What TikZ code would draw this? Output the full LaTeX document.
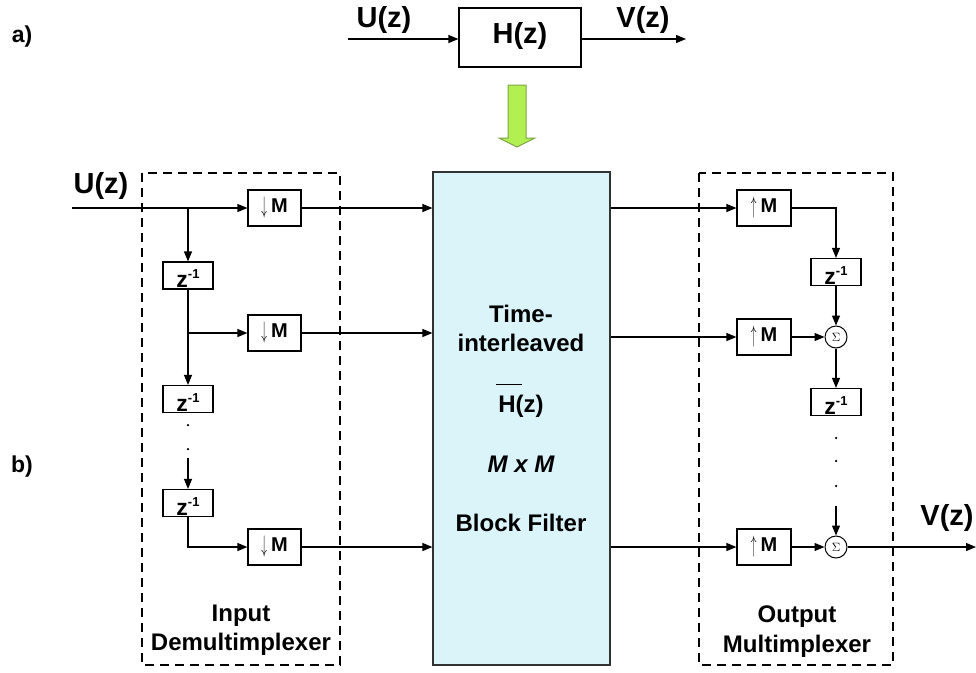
\documentclass[tikz,border=0pt]{standalone}
\usepackage{fontspec}
\usepackage{graphicx}
\setmainfont{Liberation Sans}
\usetikzlibrary{arrows.meta,calc}
\definecolor{blockfill}{RGB}{218,244,250}
\definecolor{blockline}{RGB}{50,50,50}
\definecolor{greenfill}{RGB}{178,240,82}
\definecolor{greenline}{RGB}{125,165,70}
\begin{document}
\begin{tikzpicture}[x=1pt,y=-1pt,line width=1.2pt,
  >={Triangle[length=10pt,width=8pt]},
  sbox/.style={draw,line width=1.2pt,inner sep=0pt,fill=white},
  mbox/.style={sbox,minimum width=53pt,minimum height=36pt},
  zbox/.style={sbox,minimum width=50pt,minimum height=27pt},
  sumc/.style={draw,circle,line width=1pt,minimum size=22pt,inner sep=0pt,font=\fontsize{12}{12}\selectfont},
  biglbl/.style={anchor=base,inner sep=0pt,font=\fontsize{29}{31}\selectfont\bfseries},
  midlbl/.style={anchor=base,inner sep=0pt,font=\fontsize{24}{26}\selectfont\bfseries},
  partlbl/.style={anchor=base,inner sep=0pt,font=\fontsize{23}{25}\selectfont\bfseries},
  dashbox/.style={draw,line width=1.2pt,dash pattern=on 9pt off 6pt},
  dotl/.style={fill=black,circle,inner sep=0pt,minimum size=2.5pt},
  wire/.style={line width=1.2pt}]
\useasboundingbox (0,0) rectangle (976,672);

% ---------- part a ----------
\node[partlbl] (la) at (22,42) {a)};
\node[sbox,minimum width=122pt,minimum height=59pt] (H) at (520,37.5) {};
\node[biglbl] (Ht) at (520,43) {H(z)};
\coordinate (ain) at (348,39);
\coordinate (aout) at (686,39);
\draw[wire,->] (ain) -- (ain -| H.west);
\draw[wire,->] (aout -| H.east) -- (aout);
\node[biglbl] (Ua) at (384,27) {U(z)};
\node[biglbl] (Va) at (643,27) {V(z)};

% green arrow
\draw[line width=1pt,draw=greenline,fill=greenfill]
  (508,85) -- (526,85) -- (526,138) -- (535,138) -- (517,147) -- (499,138) -- (508,138) -- cycle;

% ---------- part b ----------
\node[partlbl] (lb) at (22,472) {b)};

% block filter
\node[draw=blockline,fill=blockfill,line width=1.2pt,minimum width=177pt,minimum height=493pt,inner sep=0pt] (blk) at (521.5,418.5) {};
\node[midlbl] (t1) at (521,322) {Time-};
\node[midlbl] (t2) at (521,351) {interleaved};
\node[midlbl] (t3) at (521,412) {H(z)};
\draw[line width=0.9pt] (496,384) -- (522,384);
\node[midlbl] (t4) at (521,472) {\itshape M x M};
\node[midlbl] (t5) at (521,531) {Block Filter};

% input demultiplexer
\draw[dashbox] (142,173) rectangle (340,665);
\node[midlbl] (in1) at (241,621) {Input};
\node[midlbl] (in2) at (241,650) {Demultimplexer};
\node[biglbl] (Ub) at (101,193) {U(z)};

\newcommand{\dnM}{{\fontsize{20}{20}\selectfont\raisebox{-1pt}{\scalebox{0.55}[1.15]{$\downarrow$}}\hspace{4pt}\bfseries M}}
\newcommand{\upM}{{\fontsize{20}{20}\selectfont\raisebox{-1pt}{\scalebox{0.55}[1.15]{$\uparrow$}}\hspace{4pt}\bfseries M}}
\newcommand{\zinv}{{\fontsize{23}{23}\selectfont\bfseries z\raisebox{9pt}{\fontsize{13}{13}\selectfont -1}}}

\node[mbox] (dM1) at (274.5,208) {\dnM};
\node[mbox] (dM2) at (274.5,333) {\dnM};
\node[mbox] (dM3) at (274.5,547) {\dnM};
\node[zbox] (z1) at (188,275.5) {};
\node[zbox] (z2) at (188,399) {};
\node[zbox] (z3) at (188,503) {};
\foreach \n in {z1,z2,z3}{
  \node[anchor=base,inner sep=0pt] at ($(\n.south)+(0,-2)$) {\zinv};
}
\coordinate (uin) at (72,208);
\coordinate (br1) at (188,208);
\coordinate (br2) at (188,333);
\draw[wire,->] (uin) -- (dM1.west);
\draw[wire,->] (br1) -- (z1.north);
\draw[wire,->] (z1.south) -- (z2.north);
\draw[wire,->] (br2) -- (dM2.west);
\node[dotl] (d1) at (188,425) {};
\node[dotl] (d2) at (188,449) {};
\coordinate (ad) at (188,458);
\draw[wire,->] (ad) -- (z3.north);
\draw[wire,->] (z3.south) |- (dM3.west);
\foreach \n in {dM1,dM2,dM3}{
  \draw[wire,->] (\n.east) -- (\n.east -| blk.west);
}

% output multiplexer
\draw[dashbox] (699,173) rectangle (893,665);
\node[midlbl] (out1) at (797,622) {Output};
\node[midlbl] (out2) at (797,652) {Multimplexer};
\node[biglbl] (Vb) at (947,525) {V(z)};

\node[mbox,minimum width=54pt] (uM1) at (764,208) {\upM};
\node[mbox,minimum width=54pt] (uM2) at (764,337) {\upM};
\node[mbox,minimum width=54pt] (uM3) at (764,547) {\upM};
\node[zbox] (z4) at (836,272) {};
\node[zbox] (z5) at (836,402) {};
\foreach \n in {z4,z5}{
  \node[anchor=base,inner sep=0pt] at ($(\n.south)+(0,-2)$) {\zinv};
}
\node[sumc] (S1) at (836,337) {$\Sigma$};
\node[sumc] (S2) at (836,547) {$\Sigma$};
\foreach \n in {uM1,uM2,uM3}{
  \draw[wire,->] (\n.west -| blk.east) -- (\n.west);
}
\draw[wire,->] (uM1.east) -| (z4.north);
\draw[wire,->] (z4.south) -- (S1.north);
\draw[wire,->] (uM2.east) -- (S1.west);
\draw[wire,->] (S1.south) -- (z5.north);
\node[dotl] (e1) at (836,438) {};
\node[dotl] (e2) at (836,461) {};
\node[dotl] (e3) at (836,486) {};
\coordinate (ae) at (836,506);
\draw[wire,->] (ae) -- (S2.north);
\draw[wire,->] (uM3.east) -- (S2.west);
\coordinate (vout) at (976,547);
\draw[wire,->] (S2.east) -- (vout);
\end{tikzpicture}
\end{document}
